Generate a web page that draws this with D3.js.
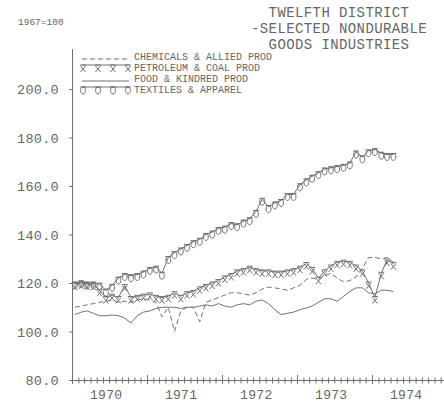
<!DOCTYPE html>
<html><head><meta charset="utf-8">
<script src="https://cdn.jsdelivr.net/npm/d3@7"></script>
<style>
html,body{margin:0;padding:0;background:#fff;}
svg{display:block;}
text{font-family:"Liberation Mono","DejaVu Sans Mono",monospace;fill:#666;}
</style></head>
<body>
<svg id="chart" width="444" height="405"></svg>
<script>
// ---- data (monthly, Jan 1970 – Apr 1974) ----
const startYear = 1970, startMonth = 0;
const chemicals = [110,110.5,111,111.5,112,112.5,113,112,112.5,112,113,113.5,
  113,112,106,110,100,108.5,110,110,104,112,113,114,
  115,116,116,115.5,115,116,117.5,118.3,118,117.5,117,118,
  119,121.5,122,121.5,123,124,122,120.5,121,122.5,126,130.5,
  130.5,130,130.5,128.5];
const petroleum = [119.5,120,119.5,119.5,117,114,115,114,119,114,114.5,115,
  115.5,114.5,114,114.5,116,114.5,116,116.5,118,119,120,121,
  122.5,123.5,125,125.5,126.5,125.5,125,125,124.5,124.5,125,125.5,
  126.5,128,126,122,125,127,128.5,129,128.5,127,125,120,
  114,124,129.5,128];
const food = [107,108,108.5,107.5,106.5,106.5,106.8,106.5,105.5,103.5,106.5,108,
  108.5,109.5,110,110,110,109.5,110,110,110.5,111,110.5,111.5,
  110.5,110,111,111.5,111,112.5,113,111.5,109,107,107.5,108,
  109,109.7,110.5,112,113.5,113.5,112.5,114.5,116.5,118,118,116,
  115.5,117,117,116.5];
const textiles = [120,120.5,120,120,119.5,117,119,122,123.5,123,123.5,124.5,
  126,126.5,124,130.5,132.5,134,135.5,137,138,140,141,142.5,
  143,144.5,144,145.5,146.5,149.5,154.5,151.5,153,154,156.5,156.5,
  160.5,162.5,164,165.5,167,167.5,168,168.5,169.5,174,172,174.5,
  175,173.5,173,173];
const seriesNames = ["CHEMICALS & ALLIED PROD","PETROLEUM & COAL PROD","FOOD & KINDRED PROD","TEXTILES & APPAREL"];
const yTickValues = [80,100,120,140,160,180,200];
const yearLabels = ["1970","1971","1972","1973","1974"];
const titleLines = ["TWELFTH DISTRICT","-SELECTED NONDURABLE","GOODS INDUSTRIES"];
const baseNote = "1967=100";

// ---- layout ----
const svg = d3.select("#chart");
const ink = "#707070";
const x = d3.scaleTime().domain([new Date(1970,0,1), new Date(1975,0,1)]).range([72, 447]);
const y = d3.scaleLinear().domain([80,200]).range([380, 89]);
const dates = chemicals.map((_,i)=> new Date(startYear, startMonth+i, 15));

// title
svg.selectAll("text.title").data(titleLines).join("text")
  .attr("class","title").attr("x",339).attr("y",(d,i)=>17+i*16)
  .attr("text-anchor","middle").attr("font-size",14).attr("letter-spacing",0.4)
  .text(d=>d);
svg.append("text").attr("x",18).attr("y",25).attr("font-size",9.5).text(baseNote);

// y axis
const yAxis = d3.axisLeft(y).tickValues(yTickValues).tickSize(3).tickFormat(d3.format(".1f"));
const gy = svg.append("g").attr("transform","translate(72,0)").call(yAxis);
gy.select(".domain").remove();
gy.selectAll("line").attr("stroke",ink);
gy.selectAll("text").attr("font-size",13.5).attr("x",-13).attr("dy","0.35em").attr("fill","#666")
  .attr("font-family","Liberation Mono").attr("letter-spacing",0.3);
svg.append("line").attr("x1",72.5).attr("x2",72.5).attr("y1",49).attr("y2",380).attr("stroke",ink);

// x axis
svg.append("line").attr("x1",72).attr("x2",444).attr("y1",380.5).attr("y2",380.5).attr("stroke",ink);
const months = d3.timeMonth.range(new Date(1970,0,1), new Date(1975,0,1));
svg.append("g").selectAll("line").data(months).join("line")
  .attr("x1",d=>x(d)+0.5).attr("x2",d=>x(d)+0.5)
  .attr("y1",d=>d.getMonth()===0?375:(d.getMonth()===6?376.5:377.5))
  .attr("y2",d=>d.getMonth()===0?384:383.5)
  .attr("stroke",ink);
svg.append("g").selectAll("text").data(yearLabels).join("text")
  .attr("x",(d)=>x(new Date(+d,6,1))-3).attr("y",399).attr("text-anchor","middle")
  .attr("font-size",13).attr("letter-spacing",0.3).text(d=>d);

// markers
function textileMark(g, cx, cy){
  g.append("path").attr("d",`M${cx-3},${cy-3}H${cx+3}M${cx},${cy-3}`+
    `C${cx-3.5},${cy-3} ${cx-3},${cy+4} ${cx},${cy+4}C${cx+3},${cy+4} ${cx+3.5},${cy-3} ${cx},${cy-3}`)
    .attr("fill","none").attr("stroke",ink).attr("stroke-width",1);
}
function petroMark(g, cx, cy){
  g.append("path").attr("d",`M${cx-3},${cy-3}H${cx+3}M${cx-2.5},${cy-2}L${cx+2.5},${cy+4}M${cx+2.5},${cy-2}L${cx-2.5},${cy+4}`)
    .attr("fill","none").attr("stroke",ink).attr("stroke-width",1);
}

const line = d3.line().x((d,i)=>x(dates[i])).y(d=>y(d));
const plot = svg.append("g");
plot.append("path").datum(food).attr("d",line).attr("fill","none").attr("stroke",ink).attr("stroke-width",1);
plot.append("path").datum(chemicals).attr("d",line).attr("fill","none").attr("stroke",ink).attr("stroke-width",1).attr("stroke-dasharray","5,3");
plot.append("path").datum(petroleum).attr("d",line).attr("fill","none").attr("stroke",ink).attr("stroke-width",1);
plot.append("path").datum(textiles).attr("d",line).attr("fill","none").attr("stroke",ink).attr("stroke-width",1);
const pm = plot.append("g");
petroleum.forEach((v,i)=>petroMark(pm, x(dates[i]), y(v)+2));
const tm = plot.append("g");
textiles.forEach((v,i)=>textileMark(tm, x(dates[i]), y(v)+2));

// legend
const leg = svg.append("g");
const rows = [57,68,79,90];
const lx0 = 82, lx1 = 129;
leg.append("line").attr("x1",lx0).attr("x2",lx1).attr("y1",rows[0]+2).attr("y2",rows[0]+2).attr("stroke",ink).attr("stroke-dasharray","5,3");
leg.append("line").attr("x1",lx0).attr("x2",lx1).attr("y1",rows[1]-3).attr("y2",rows[1]-3).attr("stroke",ink);
[lx0+1, lx0+16, lx0+31, lx0+46].forEach(cx=>petroMark(leg, cx, rows[1]));
leg.append("line").attr("x1",lx0).attr("x2",lx1).attr("y1",rows[2]+2).attr("y2",rows[2]+2).attr("stroke",ink);
leg.append("line").attr("x1",lx0).attr("x2",lx1).attr("y1",rows[3]-3).attr("y2",rows[3]-3).attr("stroke",ink);
[lx0+1, lx0+16, lx0+31, lx0+46].forEach(cx=>textileMark(leg, cx, rows[3]));
leg.selectAll("text").data(seriesNames).join("text")
  .attr("x",134).attr("y",(d,i)=>rows[i]+3).attr("font-size",10).text(d=>d);
</script>
</body></html>
